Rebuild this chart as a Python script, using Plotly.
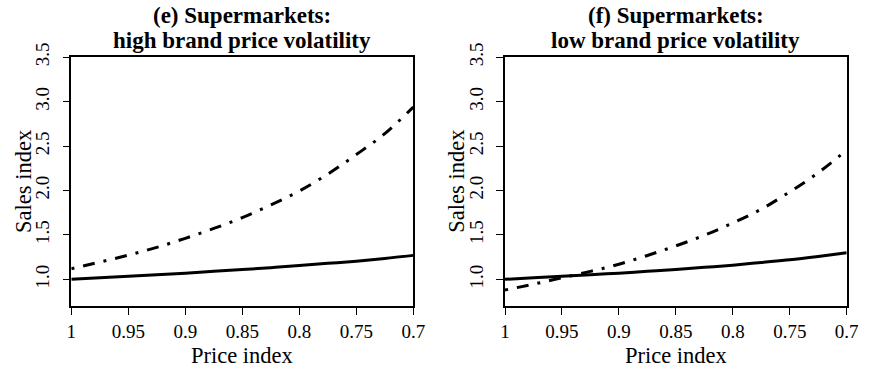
import plotly.graph_objects as go

# Price index grid (x) shared by both panels
price_index = [1.0, 0.975, 0.95, 0.925, 0.9, 0.875, 0.85, 0.825, 0.8, 0.775, 0.75, 0.725, 0.7]

# Panel (e): high brand price volatility
e_solid = [1.0, 1.017, 1.035, 1.052, 1.07, 1.09, 1.11, 1.132, 1.155, 1.18, 1.205, 1.235, 1.27]
e_dotdash = [1.12, 1.195, 1.272, 1.36, 1.462, 1.573, 1.695, 1.837, 1.995, 2.185, 2.405, 2.64, 2.94]

# Panel (f): low brand price volatility
f_solid = [1.0, 1.017, 1.035, 1.052, 1.07, 1.09, 1.11, 1.135, 1.16, 1.19, 1.22, 1.258, 1.30]
f_dotdash = [0.88, 0.946, 1.018, 1.09, 1.17, 1.269, 1.377, 1.496, 1.635, 1.79, 1.985, 2.20, 2.456]

x_tickvals = [1.0, 0.95, 0.9, 0.85, 0.8, 0.75, 0.7]
x_ticktext = ["1", "0.95", "0.9", "0.85", "0.8", "0.75", "0.7"]
y_tickvals = [1.0, 1.5, 2.0, 2.5, 3.0, 3.5]
y_ticktext = ["1.0", "1.5", "2.0", "2.5", "3.0", "3.5"]

titles = [
    ("(e) Supermarkets:", "high brand price volatility"),
    ("(f) Supermarkets:", "low brand price volatility"),
]

W, H = 871, 371
FONT = "Liberation Serif, Times New Roman, serif"
DOTDASH = "3px,9px,12px,9px"

# plot boxes in pixels: (left, right)
boxes = [(71.3, 413.3), (505.0, 846.7)]
top_px, bottom_px = 57.3, 306.0

fig = go.Figure()

panels = [(e_solid, e_dotdash), (f_solid, f_dotdash)]
for i, (solid, dotdash) in enumerate(panels):
    xa = "x" if i == 0 else "x2"
    ya = "y" if i == 0 else "y2"
    fig.add_trace(go.Scatter(
        x=price_index, y=solid, mode="lines", xaxis=xa, yaxis=ya,
        line=dict(color="black", width=3, shape="spline"), showlegend=False,
        hoverinfo="skip"))
    fig.add_trace(go.Scatter(
        x=price_index, y=dotdash, mode="lines", xaxis=xa, yaxis=ya,
        line=dict(color="black", width=3, dash=DOTDASH, shape="spline"),
        showlegend=False, hoverinfo="skip"))

ydom = [1 - bottom_px / H, 1 - top_px / H]
axis_common = dict(
    showline=True, linecolor="black", linewidth=1.5, mirror=True,
    showgrid=False, zeroline=False, ticks="outside", ticklen=7,
    tickwidth=1, tickcolor="black", automargin=False,
    tickfont=dict(family=FONT, size=19, color="black"),
)

layout = dict(
    width=W, height=H, margin=dict(l=0, r=0, t=0, b=0, pad=0, autoexpand=False),
    paper_bgcolor="white", plot_bgcolor="white",
    showlegend=False,
)
annotations = []
for i, (l, r) in enumerate(boxes):
    suffix = "" if i == 0 else "2"
    layout["xaxis" + suffix] = dict(
        axis_common, domain=[l / W, r / W], range=[1.0, 0.7],
        tickvals=x_tickvals, ticktext=x_ticktext,
        anchor="y" + suffix)
    layout["yaxis" + suffix] = dict(
        axis_common, domain=ydom, range=[0.7, 3.5],
        tickvals=y_tickvals, ticktext=y_ticktext, tickangle=-90,
        ticklabelstandoff=6,
        anchor="x" + suffix)
    cx = (l + r) / 2 / W
    line1, line2 = titles[i]
    annotations.append(dict(
        text="<b>%s</b>" % line1, x=cx, y=1 - 15 / H, xref="paper", yref="paper",
        showarrow=False, xanchor="center", yanchor="middle",
        font=dict(family=FONT, size=23, color="black")))
    annotations.append(dict(
        text="<b>%s</b>" % line2, x=cx, y=1 - 40 / H, xref="paper", yref="paper",
        showarrow=False, xanchor="center", yanchor="middle",
        font=dict(family=FONT, size=23, color="black")))
    annotations.append(dict(
        text="Price index", x=cx, y=1 - 355 / H, xref="paper", yref="paper",
        showarrow=False, xanchor="center", yanchor="middle",
        font=dict(family=FONT, size=22.5, color="black")))
    annotations.append(dict(
        text="Sales index", x=(l - 48) / W, y=1 - ((top_px + bottom_px) / 2) / H,
        xref="paper", yref="paper", textangle=-90,
        showarrow=False, xanchor="center", yanchor="middle",
        font=dict(family=FONT, size=22.5, color="black")))

layout["annotations"] = annotations
fig.update_layout(**layout)

fig.write_html("out.html")
